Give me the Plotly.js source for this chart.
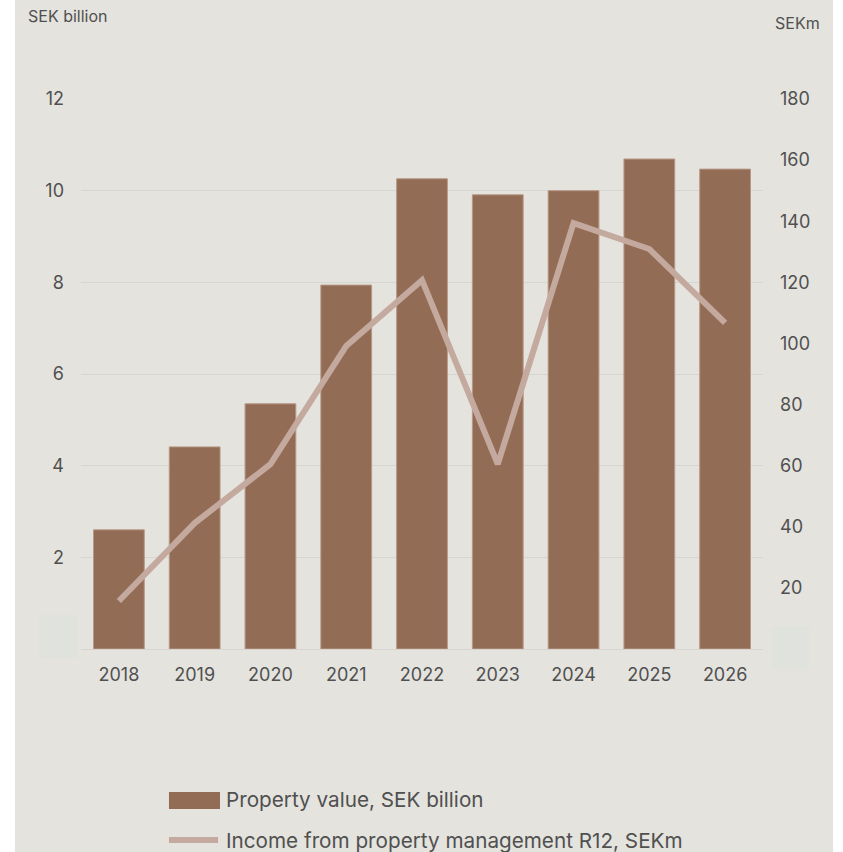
<!DOCTYPE html>
<html>
<head>
<meta charset="utf-8">
<script src="https://cdn.plot.ly/plotly-3.0.1.min.js"></script>
<style>
  html, body { margin: 0; padding: 0; background: #ffffff; width: 843px; height: 852px; overflow: hidden; }
  #chart { position: absolute; left: 15px; top: 0; width: 818px; height: 852px; }
</style>
</head>
<body>
<div id="chart"></div>
<script>
const years = ['2018', '2019', '2020', '2021', '2022', '2023', '2024', '2025', '2026'];
const propertyValue = [2.6, 4.41, 5.35, 7.94, 10.26, 9.91, 10.0, 10.69, 10.47];
const incomeR12 = [15.7, 41.2, 60.5, 99.2, 120.7, 60.5, 139.4, 130.9, 106.7];
const barName = 'Property value, SEK billion';
const lineName = 'Income from property management R12, SEKm';
const leftTicks = [2, 4, 6, 8, 10, 12];
const rightTicks = [20, 40, 60, 80, 100, 120, 140, 160, 180];

const barColor = '#936c56';
const lineColor = '#c4a99e';
const textColor = '#505050';
const bg = '#e4e3de';
const font = 'Inter, "Open Sans", sans-serif';

const traces = [
  {
    type: 'bar', x: years, y: propertyValue, name: barName,
    marker: { color: barColor, line: { color: '#b89886', width: 1 } },
    yaxis: 'y', showlegend: false, hoverinfo: 'skip'
  },
  {
    type: 'scatter', mode: 'lines', x: years, y: incomeR12, name: lineName,
    line: { color: lineColor, width: 6 },
    yaxis: 'y2', showlegend: false, hoverinfo: 'skip'
  }
];

const layout = {
  width: 818, height: 852,
  margin: { l: 66, r: 70, t: 99, b: 203 },
  paper_bgcolor: bg, plot_bgcolor: bg,
  font: { family: font, color: textColor, size: 18 },
  bargap: 0.33,
  showlegend: false,
  xaxis: {
    type: 'category', showgrid: false, zeroline: false, showline: false,
    ticks: '', ticklabelstandoff: 13,
    tickfont: { size: 18, color: textColor }
  },
  yaxis: {
    range: [0, 12], tickvals: leftTicks, ticktext: leftTicks.map(String),
    showgrid: true, gridcolor: '#d6d5d0', gridwidth: 1,
    zeroline: true, zerolinecolor: '#d6d5d0', zerolinewidth: 1,
    showline: false, ticks: '', ticklabelstandoff: 16,
    tickfont: { size: 18, color: textColor }
  },
  yaxis2: {
    overlaying: 'y', side: 'right', range: [0, 180],
    tickvals: rightTicks, ticktext: rightTicks.map(String),
    showgrid: false, zeroline: false, showline: false,
    ticks: '', ticklabelstandoff: 16,
    tickfont: { size: 18, color: textColor }
  },
  shapes: [
    { type: 'rect', xref: 'paper', yref: 'paper', x0: -0.0616, x1: -0.0059, y0: -0.0164, y1: 0.0618,
      fillcolor: '#e0e2dd', line: { width: 0 }, layer: 'below' },
    { type: 'rect', xref: 'paper', yref: 'paper', x0: 1.0132, x1: 1.0674, y0: -0.0364, y1: 0.0418,
      fillcolor: '#e0e2dd', line: { width: 0 }, layer: 'below' },
    { type: 'rect', xref: 'paper', yref: 'paper', x0: 0.129, x1: 0.2038, y0: -0.291, y1: -0.26,
      fillcolor: barColor, line: { width: 0 } },
    { type: 'line', xref: 'paper', yref: 'paper', x0: 0.1290, x1: 0.2010, y0: -0.3473, y1: -0.3473,
      line: { color: lineColor, width: 6 } }
  ],
  annotations: [
    { text: 'SEK billion', xref: 'paper', yref: 'paper', x: -0.0806, y: 1.151,
      xanchor: 'left', yanchor: 'middle', showarrow: false, font: { size: 16, color: textColor } },
    { text: 'SEKm', xref: 'paper', yref: 'paper', x: 1.0147, y: 1.138,
      xanchor: 'left', yanchor: 'middle', showarrow: false, font: { size: 16, color: textColor } },
    { text: barName, xref: 'paper', yref: 'paper', x: 0.2097, y: -0.2745,
      xanchor: 'left', yanchor: 'middle', showarrow: false, font: { size: 20.7, color: textColor } },
    { text: lineName, xref: 'paper', yref: 'paper', x: 0.2097, y: -0.3473,
      xanchor: 'left', yanchor: 'middle', showarrow: false, font: { size: 20.7, color: textColor } }
  ]
};

Plotly.newPlot('chart', traces, layout, { displayModeBar: false, staticPlot: true });
</script>
</body>
</html>
